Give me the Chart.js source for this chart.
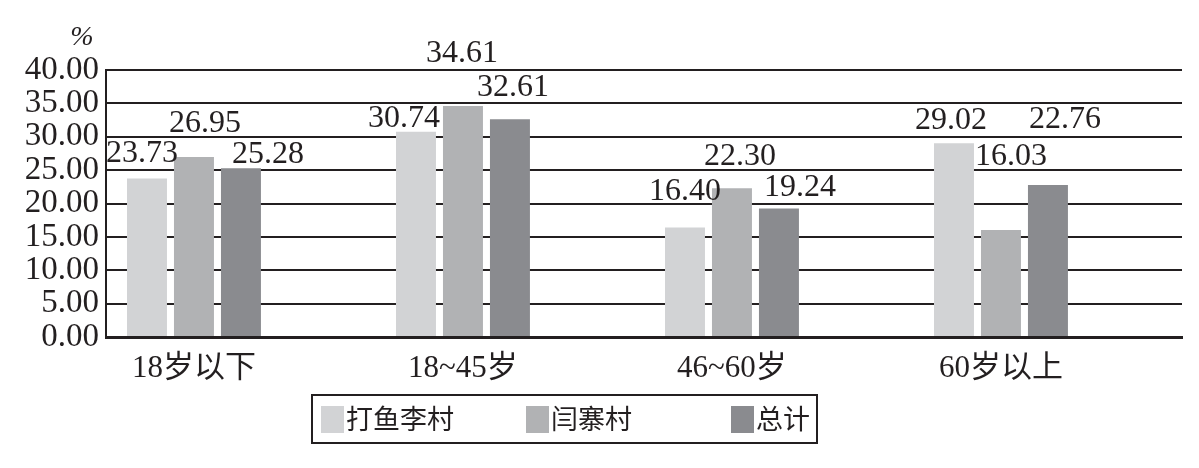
<!DOCTYPE HTML>
<html lang="zh">
<head>
    <meta charset="utf-8">
    <title>年龄结构</title>
    <script src="https://cdn.jsdelivr.net/npm/chart.js@4/dist/chart.umd.min.js"></script>
    <style>
        body {
            margin: 0;
            background: #fff;
        }
        #wrap {
            width: 1199px;
            height: 468px;
        }
    </style>
</head>
<body>
    <div id="wrap">
        <canvas id="chart" width="1199" height="468"></canvas>
    </div>

    <script>
        // data
        const categories = ['18岁以下', '18~45岁', '46~60岁', '60岁以上'];
        const seriesNames = ['打鱼李村', '闫寨村', '总计'];
        const daYuLi = [23.73, 30.74, 16.40, 29.02];
        const yanZhai = [26.95, 34.61, 22.30, 16.03];
        const total = [25.28, 32.61, 19.24, 22.76];
        const yTicks = [0, 5, 10, 15, 20, 25, 30, 35, 40];

        // hand placed value labels in the original, nudges in px from the bar top
        const labelNudge = [
            [[-5, -25], [-12, -13], [0, -36], [-3, -23]],
            [[11, -34], [-1, -52], [8, -32], [10, -73]],
            [[27, -14], [3, -32], [21, -21], [17, -65]]
        ];

        const ink = '#231f20';
        const colors = ['#d2d3d5', '#b1b2b4', '#8a8b8f'];
        const serif = '"Liberation Serif", "Noto Sans CJK SC", serif';

        function toPoints(arr) {
            return arr.map((v, i) => ({ x: i, y: v }));
        }

        const valueLabels = {
            id: 'valueLabels',
            afterDatasetsDraw(chart) {
                const ctx = chart.ctx;
                ctx.save();
                ctx.font = '32px ' + serif;
                ctx.fillStyle = ink;
                ctx.textAlign = 'center';
                ctx.textBaseline = 'middle';
                chart.data.datasets.forEach((ds, d) => {
                    chart.getDatasetMeta(d).data.forEach((bar, i) => {
                        const n = labelNudge[d][i];
                        ctx.fillText(ds.data[i].y.toFixed(2), bar.x + n[0], bar.y + n[1]);
                    });
                });
                // unit mark above the y axis
                ctx.font = 'italic 28px ' + serif;
                ctx.fillText('%', 82, 38);
                ctx.restore();
            }
        };

        const boxLegend = {
            id: 'boxLegend',
            afterDraw(chart) {
                const ctx = chart.ctx;
                ctx.save();
                ctx.strokeStyle = ink;
                ctx.lineWidth = 2;
                ctx.strokeRect(312, 395, 505, 48);
                ctx.font = '27px "Noto Sans CJK SC", sans-serif';
                ctx.textBaseline = 'middle';
                ctx.textAlign = 'left';
                chart.data.datasets.forEach((ds, d) => {
                    const x = 321 + d * 205;
                    ctx.fillStyle = ds.backgroundColor;
                    ctx.fillRect(x, 406, 23, 27);
                    ctx.fillStyle = ink;
                    ctx.fillText(ds.label, x + 25, 419);
                });
                ctx.restore();
            }
        };

        new Chart(document.getElementById('chart').getContext('2d'), {
            type: 'bar',
            data: {
                datasets: [
                    { label: seriesNames[0], data: toPoints(daYuLi), backgroundColor: colors[0] },
                    { label: seriesNames[1], data: toPoints(yanZhai), backgroundColor: colors[1] },
                    { label: seriesNames[2], data: toPoints(total), backgroundColor: colors[2] }
                ]
            },
            options: {
                responsive: false,
                animation: false,
                categoryPercentage: 0.524,
                barPercentage: 0.851,
                layout: {
                    padding: { top: 70, right: 17, bottom: 0, left: 0 }
                },
                plugins: {
                    legend: { display: false },
                    tooltip: { enabled: false }
                },
                scales: {
                    x: {
                        type: 'linear',
                        offset: false,
                        min: -0.327,
                        max: 3.673,
                        afterBuildTicks: scale => {
                            scale.ticks = categories.map((c, i) => ({ value: i }));
                        },
                        afterFit: scale => {
                            scale.height = 131;
                        },
                        grid: { display: false, drawTicks: false, offset: false },
                        border: { display: true, color: ink, width: 3 },
                        ticks: {
                            padding: 13,
                            autoSkip: false,
                            maxRotation: 0,
                            color: ink,
                            font: { family: serif, size: 31 },
                            callback: v => categories[v]
                        }
                    },
                    y: {
                        min: 0,
                        max: 40,
                        afterBuildTicks: scale => {
                            scale.ticks = yTicks.map(v => ({ value: v }));
                        },
                        afterFit: scale => {
                            scale.width = 106;
                        },
                        grid: { color: ink, lineWidth: 2, drawTicks: false },
                        border: { display: true, color: ink, width: 2 },
                        ticks: {
                            padding: 7,
                            autoSkip: false,
                            color: ink,
                            font: { family: serif, size: 33 },
                            callback: v => Number(v).toFixed(2)
                        }
                    }
                }
            },
            plugins: [valueLabels, boxLegend]
        });
    </script>
</body>
</html>
